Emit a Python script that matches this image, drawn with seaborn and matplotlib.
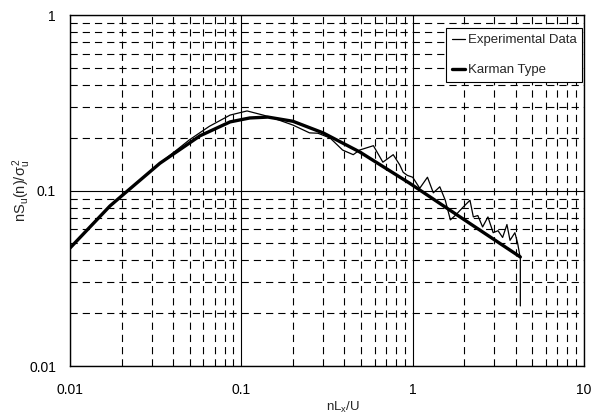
import numpy as np
import pandas as pd
import matplotlib
matplotlib.use("Agg")
import matplotlib.pyplot as plt
import seaborn as sns
from matplotlib.ticker import LogLocator, NullFormatter, FixedLocator, FixedFormatter

# ---- data ----
exp_f = [0.01, 0.0171, 0.0218, 0.0335, 0.05, 0.065, 0.086, 0.108, 0.134, 0.153,
         0.20, 0.25, 0.28, 0.33, 0.39, 0.45, 0.49, 0.59, 0.67, 0.77,
         0.84, 0.88, 0.93, 1.0, 1.1, 1.22, 1.32, 1.44, 1.55, 1.66,
         1.77, 1.96, 2.16, 2.26, 2.4, 2.56, 2.75, 2.95, 3.15, 3.35,
         3.55, 3.7, 3.95, 4.1, 4.25, 4.25]
exp_v = [0.047, 0.0816, 0.1, 0.143, 0.195, 0.232, 0.269, 0.284, 0.269, 0.259,
         0.236, 0.213, 0.212, 0.199, 0.170, 0.160, 0.170, 0.180, 0.145, 0.160,
         0.140, 0.127, 0.122, 0.119, 0.103, 0.119, 0.097, 0.105, 0.088, 0.068,
         0.072, 0.080, 0.088, 0.0707, 0.072, 0.062, 0.0707, 0.0575, 0.059, 0.054,
         0.064, 0.052, 0.0575, 0.050, 0.041, 0.022]

kar_f = [0.01, 0.0171, 0.0218, 0.0335, 0.0574, 0.086, 0.112, 0.143, 0.20,
         0.30, 0.49, 0.96, 1.89, 4.25]
kar_v = [0.047, 0.0816, 0.1, 0.143, 0.205, 0.246, 0.259, 0.262, 0.248,
         0.213, 0.166, 0.110, 0.0707, 0.0418]

x_ticks = [0.01, 0.1, 1, 10]
x_tick_labels = ["0.01", "0.1", "1", "10"]
y_ticks = [0.01, 0.1, 1]
y_tick_labels = ["0.01", "0.1", "1"]

series_names = ["Experimental Data", "Karman Type"]

# ---- plotting ----
sns.set_style("white")
plt.rcParams["font.family"] = ["Liberation Sans", "DejaVu Sans"]
plt.rcParams["mathtext.fontset"] = "custom"
plt.rcParams["mathtext.rm"] = "Liberation Sans"
plt.rcParams["mathtext.it"] = "Liberation Sans"

df_exp = pd.DataFrame({"f": exp_f, "v": exp_v, "s": series_names[0]})
df_kar = pd.DataFrame({"f": kar_f, "v": kar_v, "s": series_names[1]})

fig = plt.figure(figsize=(6.02, 4.19), dpi=100)
ax = fig.add_axes([70 / 602, 1 - 366 / 419, 514 / 602, 351 / 419])

sns.lineplot(data=df_exp, x="f", y="v", ax=ax, color="black", linewidth=0.9,
             sort=False, estimator=None, label=series_names[0])
sns.lineplot(data=df_kar, x="f", y="v", ax=ax, color="black", linewidth=2.4,
             sort=False, estimator=None, label=series_names[1])

ax.set_xscale("log")
ax.set_yscale("log")
ax.set_xlim(0.01, 10)
ax.set_ylim(0.01, 1)

ax.xaxis.set_major_locator(FixedLocator(x_ticks))
ax.xaxis.set_major_formatter(FixedFormatter(x_tick_labels))
ax.yaxis.set_major_locator(FixedLocator(y_ticks))
ax.yaxis.set_major_formatter(FixedFormatter(y_tick_labels))
ax.xaxis.set_minor_locator(LogLocator(base=10, subs=np.arange(2, 10)))
ax.yaxis.set_minor_locator(LogLocator(base=10, subs=np.arange(2, 10)))
ax.xaxis.set_minor_formatter(NullFormatter())
ax.yaxis.set_minor_formatter(NullFormatter())

ax.grid(which="major", color="black", linestyle="-", linewidth=0.8)
ax.grid(which="minor", color="black", linestyle=(0, (6.5, 4.5)), linewidth=0.8)
ax.set_axisbelow(True)

ax.tick_params(which="both", length=0)
ax.tick_params(axis="x", pad=12, labelsize=10, colors="black")
ax.tick_params(axis="y", pad=10, labelsize=10, colors="black")

for sp in ax.spines.values():
    sp.set_color("black")
    sp.set_linewidth(1.0)

ax.set_xlabel(r"$\mathregular{nL_x/U}$", fontsize=9.5)
ax.set_ylabel(r"$\mathregular{nS_u(n)/\sigma_u^{\,2}}$", fontsize=10.5)
ax.xaxis.set_label_coords(0.531, -0.098)
ax.yaxis.set_label_coords(-0.072, 0.5)

leg = ax.legend(loc="upper right", bbox_to_anchor=(0.997, 0.963),
                borderaxespad=0, fontsize=9.5, frameon=True, fancybox=False,
                handlelength=1.0, handletextpad=0.2, labelspacing=1.35,
                borderpad=0.45, edgecolor="black", framealpha=1)
leg.get_frame().set_linewidth(0.8)

fig.savefig("out.png", dpi=100, facecolor="white")
